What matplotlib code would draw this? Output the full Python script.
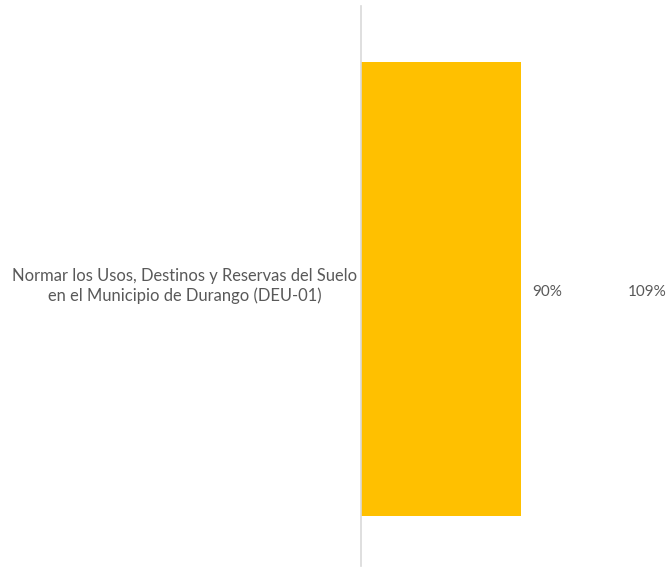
import matplotlib
matplotlib.use("Agg")
import matplotlib.pyplot as plt
from matplotlib.transforms import offset_copy

categories = ["Normar los Usos, Destinos y Reservas del Suelo\nen el Municipio de Durango (DEU-01)"]
avance = [0.90]
meta_label = ["109%"]
meta_pos = [1.50]

plt.rcParams['font.family'] = ['Lato', 'DejaVu Sans']
fig = plt.figure(figsize=(6.67, 5.72), dpi=100)
ax = fig.add_axes([361/667, 6/572, 306/667, 560/572])
ax.barh([0], avance, height=0.81, color="#FFC000", zorder=2)
ax.set_xlim(0, 1.72)
ax.set_ylim(-0.4946, 0.5054)
for s in ["top", "right", "bottom"]:
    ax.spines[s].set_visible(False)
ax.spines["left"].set_color("#D9D9D9")
ax.spines["left"].set_linewidth(1.2)
ax.set_xticks([])
ax.set_yticks([])
tr = offset_copy(ax.transAxes, fig=fig, x=-4, y=0, units="dots")
for c in categories:
    ax.text(0, 0.5, c, transform=tr, fontsize=11.9, color="#595959",
            ha="right", va="center", multialignment="center", linespacing=1.3)
for v in avance:
    ax.text(v + 0.06, -0.005, f"{v:.0%}", fontsize=11, color="#595959", va="center", ha="left")
for lbl, p in zip(meta_label, meta_pos):
    ax.text(p, -0.005, lbl, fontsize=11, color="#595959", va="center", ha="left", clip_on=False)
fig.savefig("out.png", dpi=100)
